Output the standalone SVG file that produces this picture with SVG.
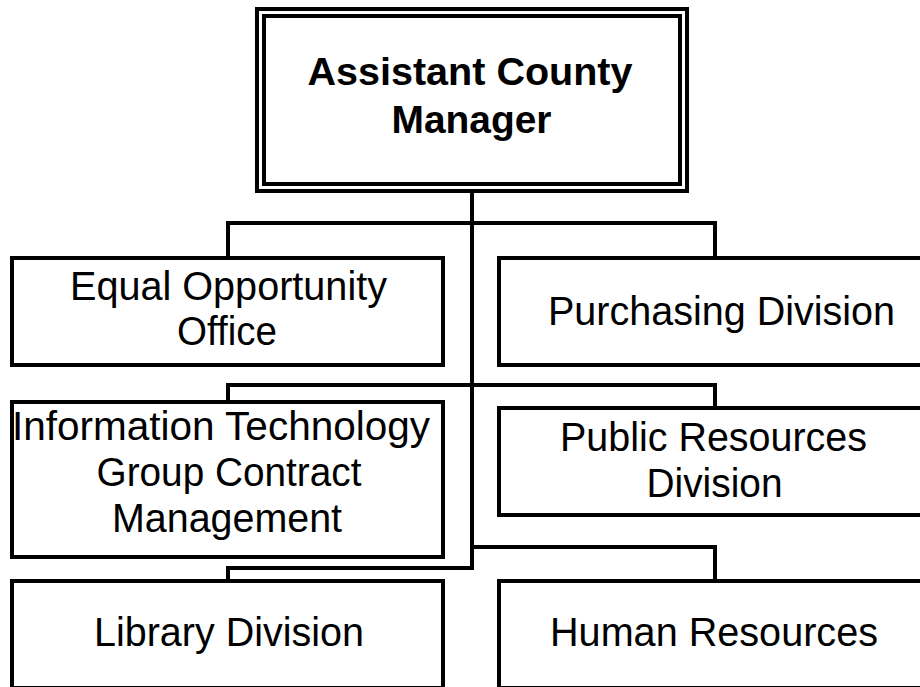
<svg xmlns="http://www.w3.org/2000/svg" width="920" height="687" viewBox="0 0 920 687">
  <style>
    .box { fill: #ffffff; stroke: #000000; stroke-width: 4; }
    .link { fill: none; stroke: #000000; stroke-width: 4; stroke-linejoin: miter; stroke-linecap: square; }
    .lbl { font-family: "Liberation Sans", Arial, sans-serif; font-size: 40px; fill: #000000; text-anchor: middle; }
    .head { font-family: "Liberation Sans", Arial, sans-serif; font-size: 38px; font-weight: bold; fill: #000000; text-anchor: middle; }
  </style>
  <rect width="920" height="687" fill="#ffffff"/>

  <!-- connectors -->
  <g id="connectors">
    <path class="link" d="M472 192 V568"/>
    <path class="link" d="M228 258 V223 H715 V258"/>
    <path class="link" d="M228 402 V385 H715 V408"/>
    <path class="link" d="M472 547 H715 V581"/>
    <path class="link" d="M472 568 H228 V581"/>
  </g>

  <!-- top-level manager, double border -->
  <g id="assistant-county-manager">
    <rect class="box" x="257" y="9" width="430" height="182"/>
    <rect class="box" x="264" y="16" width="416" height="168"/>
    <text class="head" x="470" y="85" textLength="325" lengthAdjust="spacingAndGlyphs">Assistant County</text>
    <text class="head" x="471.5" y="133" textLength="160" lengthAdjust="spacingAndGlyphs">Manager</text>
  </g>

  <g id="equal-opportunity-office">
    <rect class="box" x="12" y="258" width="431" height="107"/>
    <text class="lbl" x="228.5" y="300" textLength="317" lengthAdjust="spacingAndGlyphs">Equal Opportunity</text>
    <text class="lbl" x="227" y="345" textLength="100" lengthAdjust="spacingAndGlyphs">Office</text>
  </g>

  <g id="purchasing-division">
    <rect class="box" x="499" y="258" width="430" height="107"/>
    <text class="lbl" x="721.5" y="325" textLength="347" lengthAdjust="spacingAndGlyphs">Purchasing Division</text>
  </g>

  <g id="it-group-contract-management">
    <rect class="box" x="12" y="402" width="431" height="155"/>
    <text class="lbl" x="221" y="440" textLength="418" lengthAdjust="spacingAndGlyphs">Information Technology</text>
    <text class="lbl" x="229" y="486" textLength="265" lengthAdjust="spacingAndGlyphs">Group Contract</text>
    <text class="lbl" x="227" y="532" textLength="230" lengthAdjust="spacingAndGlyphs">Management</text>
  </g>

  <g id="public-resources-division">
    <rect class="box" x="499" y="408" width="430" height="107"/>
    <text class="lbl" x="713.5" y="451" textLength="307" lengthAdjust="spacingAndGlyphs">Public Resources</text>
    <text class="lbl" x="714.5" y="497" textLength="136" lengthAdjust="spacingAndGlyphs">Division</text>
  </g>

  <g id="library-division">
    <rect class="box" x="12" y="581" width="431" height="107"/>
    <text class="lbl" x="229" y="646" textLength="270" lengthAdjust="spacingAndGlyphs">Library Division</text>
  </g>

  <g id="human-resources">
    <rect class="box" x="499" y="581" width="430" height="107"/>
    <text class="lbl" x="714" y="646" textLength="328" lengthAdjust="spacingAndGlyphs">Human Resources</text>
  </g>
</svg>
